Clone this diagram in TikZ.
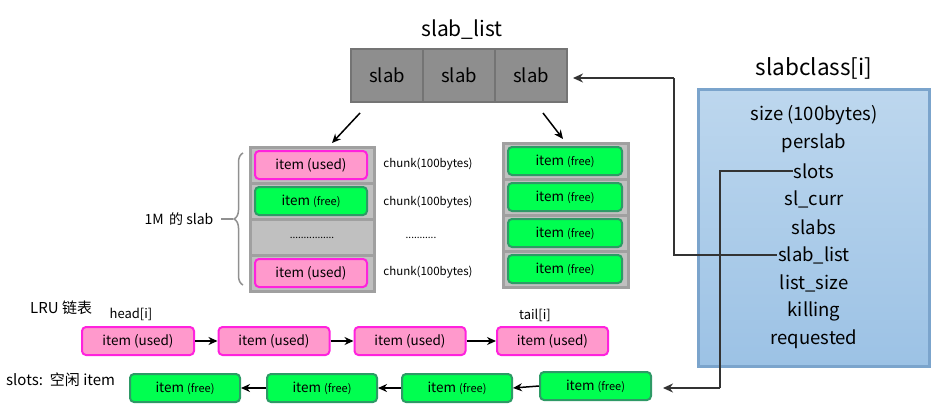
\documentclass[tikz,border=0pt]{standalone}
\usepackage{fontspec}
\setmainfont{Noto Sans CJK SC}
\usetikzlibrary{arrows.meta,decorations.pathreplacing,calc}
\definecolor{pinkf}{HTML}{FF99CC}
\definecolor{pinkb}{HTML}{FF22DD}
\definecolor{greenf}{HTML}{00FF50}
\definecolor{greenb}{HTML}{2E9A66}
\definecolor{cellf}{HTML}{C0C0C0}
\definecolor{cellb}{HTML}{A0A0A0}
\definecolor{slabf}{HTML}{8E8E8E}
\definecolor{slabb}{HTML}{747474}
\definecolor{bluet}{HTML}{BDD7EE}
\definecolor{blueb}{HTML}{9CC2E5}
\definecolor{blued}{HTML}{7BA4CC}
\definecolor{linec}{HTML}{333333}
\begin{document}
\begin{tikzpicture}[x=1pt,y=-1pt,
  txt/.style={inner sep=0pt, font=\fontsize{#1}{#1}\selectfont},
  usedbox/.style={draw=pinkb, fill=pinkf, line width=2pt, rounded corners=4pt,
     minimum width=#1, minimum height=28pt, inner sep=0pt, font=\fontsize{13.5}{16}\selectfont},
  freebox/.style={draw=greenb, fill=greenf, line width=2pt, rounded corners=4pt,
     minimum width=#1, minimum height=28pt, inner sep=0pt, font=\fontsize{13.5}{16}\selectfont},
  cellbox/.style={draw=cellb, fill=cellf, line width=3pt, minimum width=#1, minimum height=36pt, inner sep=0pt},
  slabcell/.style={draw=slabb, fill=slabf, line width=2.5pt, minimum width=72pt, minimum height=53pt,
     inner sep=0pt, font=\fontsize{18.5}{20}\selectfont},
  arr/.style={-{Stealth[length=9pt,width=8pt]}, line width=1.5pt, black},
  conn/.style={line width=1.5pt, linec},
  field/.style={inner sep=1pt, font=\fontsize{18.5}{20}\selectfont}
]
\path[use as bounding box] (0,0) rectangle (941,412);
\newcommand{\usedtxt}{item (used)}
\newcommand{\freetxt}{item {\fontsize{11}{12}\selectfont(free)}}

% slab_list
\node[txt=21] (sltitle) at (462,30) {slab\_list};
\node[slabcell] (s1) at (387,75.5) {slab};
\node[slabcell] (s2) at (459,75.5) {slab};
\node[slabcell] (s3) at (531,75.5) {slab};

% left slab column
\node[cellbox=124pt] (l1) at (312,165) {};
\node[cellbox=124pt] (l2) at (312,201) {};
\node[cellbox=124pt] (l3) at (312,237) {};
\node[cellbox=124pt] (l4) at (312,273) {};
\node[usedbox=112pt] (li1) at (311,165) {\usedtxt};
\node[freebox=112pt] (li2) at (311,201) {\freetxt};
\node[txt=10] (ldots) at (312,238) {................};
\node[usedbox=112pt] (li4) at (311,273) {\usedtxt};

% chunk labels
\node[txt=11.5] (c1) at (428,164) {chunk(100bytes)};
\node[txt=11.5] (c2) at (428,202) {chunk(100bytes)};
\node[txt=10] (c3) at (421,238) {...........};
\node[txt=11.5] (c4) at (428,272) {chunk(100bytes)};

% right slab column
\node[cellbox=125pt] (r1) at (565.5,161) {};
\node[cellbox=125pt] (r2) at (565.5,197) {};
\node[cellbox=125pt] (r3) at (565.5,233) {};
\node[cellbox=125pt] (r4) at (565.5,269) {};
\node[freebox=114pt] (ri1) at (565,161) {\freetxt};
\node[freebox=114pt] (ri2) at (565,197) {\freetxt};
\node[freebox=114pt] (ri3) at (565,233) {\freetxt};
\node[freebox=114pt] (ri4) at (565,269) {\freetxt};

% arrows from slab_list
\coordinate (a1s) at (360,113);
\coordinate (a1e) at (332,143);
\coordinate (a2s) at (543,113);
\coordinate (a2e) at (563,139);
\draw[arr] (a1s) -- (a1e);
\draw[arr] (a2s) -- (a2e);

% brace
\draw[cellb!90!black, line width=1.5pt, decorate, decoration={brace, amplitude=9pt}]
  (243,285) -- (243,153);
\coordinate (brtip) at (233,219);
\coordinate (brend) at (221,219);
\draw[cellb!90!black, line width=1.5pt] (brtip) -- (brend);
\node[txt=14] (mslab) at (179,219) {1M\, 的 slab};

% slabclass
\node[txt=22.5] (sctitle) at (814,68) {slabclass[i]};
\node[draw=blued, line width=3pt, top color=bluet, bottom color=blueb,
      minimum width=231pt, minimum height=277pt, inner sep=0pt] (sc) at (813.5,227.5) {};
\node[field] (fsize) at (814,115) {size (100bytes)};
\node[field] (fper)  at (814,143) {perslab};
\node[field] (fslots) at (814,171) {slots};
\node[field] (fcurr) at (814,199) {sl\_curr};
\node[field] (fslabs) at (814,227) {slabs};
\node[field] (fsl) at (814,255) {slab\_list};
\node[field] (flist) at (814,283) {list\_size};
\node[field] (fkill) at (814,311) {killing};
\node[field] (freq) at (814,339) {requested};

% connectors
\coordinate (slbend) at (674,78);
\coordinate (slin) at (573,78);
\draw[conn] (fsl.west) -| (slbend);
\draw[conn, -{Stealth[length=10pt,width=9pt]}] (slbend) -- (slin);

\coordinate (stbend) at (720,388);
\coordinate (stin) at (663,388);
\draw[conn] (fslots.west) -| (stbend);
\draw[conn, -{Stealth[length=10pt,width=9pt]}] (stbend) -- (stin);

% LRU
\node[txt=15, anchor=west] (lru) at (30,308) {LRU 链表};
\node[txt=13] (head) at (131,314) {head[i]};
\node[txt=13] (tail) at (535,315) {tail[i]};
\node[usedbox=112pt] (u1) at (138,341) {\usedtxt};
\node[usedbox=111pt] (u2) at (274,341) {\usedtxt};
\node[usedbox=111pt] (u3) at (410,341) {\usedtxt};
\node[usedbox=111pt] (u4) at (552.5,341) {\usedtxt};
\draw[arr] (u1) -- (u2);
\draw[arr] (u2) -- (u3);
\draw[arr] (u3) -- (u4);

% slots free list
\node[txt=15, anchor=west] (slotslbl) at (6,380) {slots:\, 空闲 item};
\node[freebox=110pt] (f1) at (185,388) {\freetxt};
\node[freebox=110pt] (f2) at (322,388) {\freetxt};
\node[freebox=110pt] (f3) at (457,388) {\freetxt};
\node[freebox=111pt] (f4) at (595.5,386) {\freetxt};
\draw[arr] (f2.west) -- (f1.east);
\draw[arr] (f3.west) -- (f2.east);
\draw[arr] (f4.west) -- (f3.east);
\end{tikzpicture}
\end{document}
